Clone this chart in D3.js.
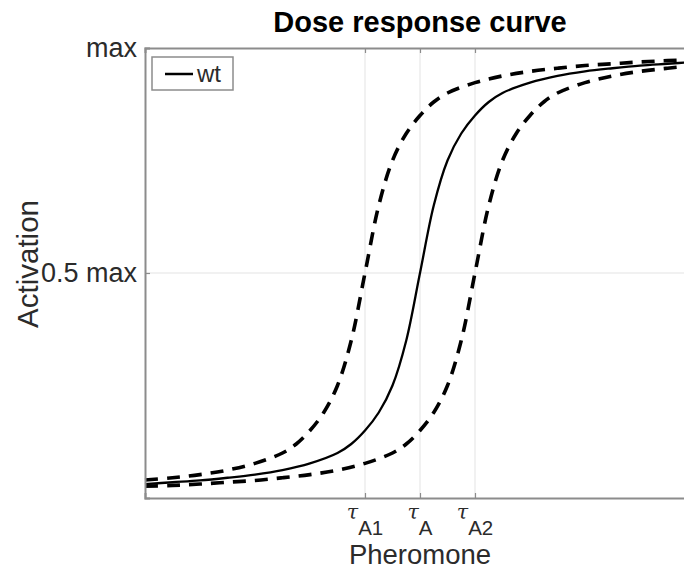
<!DOCTYPE html>
<html>
<head>
<meta charset="utf-8">
<script src="https://cdn.jsdelivr.net/npm/d3@7"></script>
<style>
  html, body { margin: 0; padding: 0; background: #fff; }
  svg { display: block; font-family: "Liberation Sans", Arial, Helvetica, sans-serif; }
</style>
</head>
<body>
<svg id="chart" width="684" height="570"></svg>
<script>
// Pheromone dose (arbitrary units) and activation (fraction of max)
const doseWt = [0, 0.5, 1, 1.5, 2, 2.5, 3, 3.5, 3.75, 4, 4.25, 4.5, 4.75, 5, 5.25, 5.5, 5.75, 6, 6.25, 6.5, 7, 7.5, 8, 8.5, 9, 9.5, 10];
const actWt  = [0.031, 0.035, 0.039, 0.045, 0.052, 0.062, 0.077, 0.10, 0.12, 0.15, 0.19, 0.25, 0.35, 0.50, 0.65, 0.75, 0.81, 0.85, 0.88, 0.90, 0.923, 0.938, 0.948, 0.955, 0.961, 0.965, 0.969];

const doseA1 = [0, 0.5, 1, 1.5, 2, 2.5, 2.75, 3, 3.25, 3.5, 3.75, 4, 4.25, 4.5, 4.75, 5, 5.25, 5.5, 6, 6.5, 7, 7.5, 8, 8.5, 9, 9.5, 10];
const actA1  = [0.040, 0.045, 0.052, 0.062, 0.077, 0.10, 0.12, 0.15, 0.19, 0.25, 0.35, 0.50, 0.65, 0.75, 0.81, 0.85, 0.88, 0.90, 0.923, 0.938, 0.948, 0.955, 0.961, 0.965, 0.969, 0.972, 0.974];

const doseA2 = [0, 0.5, 1, 1.5, 2, 2.5, 3, 3.5, 4, 4.5, 4.75, 5, 5.25, 5.5, 5.75, 6, 6.25, 6.5, 6.75, 7, 7.25, 7.5, 8, 8.5, 9, 9.5, 10];
const actA2  = [0.026, 0.028, 0.031, 0.035, 0.039, 0.045, 0.052, 0.062, 0.077, 0.10, 0.12, 0.15, 0.19, 0.25, 0.35, 0.50, 0.65, 0.75, 0.81, 0.85, 0.88, 0.90, 0.923, 0.938, 0.948, 0.955, 0.961];

// Threshold doses and their tick labels
const xTickValues = [4, 5, 6];
const xTickSubs   = ["A1", "A", "A2"];
const yTickValues = [0.5, 1];
const yTickLabels = ["0.5 max", "max"];

const svg = d3.select("#chart");
const plotLeft = 145, plotRight = 695, plotTop = 48, plotBottom = 498;

const x = d3.scaleLinear().domain([0, 10]).range([plotLeft, plotRight]);
const y = d3.scaleLinear().domain([0, 1]).range([plotBottom, plotTop]);

const gridColor = "#e3e3e3";
const axisColor = "#8c8c8c";
const textColor = "#2b2b2b";

// grid lines
svg.append("g").selectAll("line").data(xTickValues).join("line")
  .attr("x1", d => x(d)).attr("x2", d => x(d))
  .attr("y1", plotTop).attr("y2", plotBottom)
  .attr("stroke", gridColor).attr("stroke-width", 1);
svg.append("g").selectAll("line").data([0.5]).join("line")
  .attr("x1", plotLeft).attr("x2", plotRight)
  .attr("y1", d => y(d)).attr("y2", d => y(d))
  .attr("stroke", gridColor).attr("stroke-width", 1);

// curves
const line = d3.line().x(d => x(d[0])).y(d => y(d[1])).curve(d3.curveCatmullRom.alpha(0.5));
const zip = (a, b) => a.map((v, i) => [v, b[i]]);

const plot = svg.append("g");
plot.append("path").datum(zip(doseA1, actA1)).attr("d", line)
  .attr("fill", "none").attr("stroke", "#000").attr("stroke-width", 3.6)
  .attr("stroke-dasharray", "13,9");
plot.append("path").datum(zip(doseA2, actA2)).attr("d", line)
  .attr("fill", "none").attr("stroke", "#000").attr("stroke-width", 3.6)
  .attr("stroke-dasharray", "13,9");
plot.append("path").datum(zip(doseWt, actWt)).attr("d", line)
  .attr("fill", "none").attr("stroke", "#000").attr("stroke-width", 2.3);

// axes box
const xAxisB = d3.axisBottom(x).tickValues(xTickValues).tickSize(-5).tickFormat("");
const xAxisT = d3.axisTop(x).tickValues(xTickValues).tickSize(-5).tickFormat("");
const yAxisL = d3.axisLeft(y).tickValues(yTickValues).tickSize(-5).tickFormat("");

function styleAxis(g) {
  g.select(".domain").attr("stroke", axisColor).attr("stroke-width", 2);
  g.selectAll(".tick line").attr("stroke", axisColor).attr("stroke-width", 1.2);
}
svg.append("g").attr("transform", `translate(0,${plotBottom})`).call(xAxisB).call(styleAxis);
svg.append("g").attr("transform", `translate(0,${plotTop})`).call(xAxisT).call(styleAxis);
svg.append("g").attr("transform", `translate(${plotLeft},0)`).call(yAxisL).call(styleAxis);

// y tick labels
svg.append("g").selectAll("text").data(yTickValues).join("text")
  .attr("x", plotLeft - 8).attr("y", d => y(d)).attr("dy", "0.35em")
  .attr("text-anchor", "end").attr("font-size", 27).attr("fill", textColor)
  .text((d, i) => yTickLabels[i]);

// x tick labels: tau with subscript
const xt = svg.append("g").selectAll("text").data(xTickValues).join("text")
  .attr("x", d => x(d)).attr("y", 519)
  .attr("text-anchor", "middle").attr("font-size", 20.5).attr("fill", textColor);
xt.append("tspan").attr("font-family", "'DejaVu Serif', serif").attr("font-style", "italic").text("τ");
xt.append("tspan").attr("dy", 16).text((d, i) => xTickSubs[i]);

// axis labels
svg.append("text").attr("x", (plotLeft + plotRight) / 2).attr("y", 564)
  .attr("text-anchor", "middle").attr("font-size", 27.5).attr("fill", textColor)
  .text("Pheromone");
svg.append("text").attr("transform", `translate(38,${(plotTop + plotBottom) / 2 - 9}) rotate(-90)`)
  .attr("text-anchor", "middle").attr("font-size", 29.5).attr("fill", textColor)
  .text("Activation");

// title
svg.append("text").attr("x", (plotLeft + plotRight) / 2).attr("y", 32)
  .attr("text-anchor", "middle").attr("font-size", 29).attr("font-weight", "bold")
  .attr("fill", "#000").text("Dose response curve");

// legend
const lg = svg.append("g");
lg.append("rect").attr("x", 152).attr("y", 57).attr("width", 81).attr("height", 33)
  .attr("fill", "#fff").attr("stroke", "#8c8c8c").attr("stroke-width", 1.5);
lg.append("line").attr("x1", 165).attr("x2", 193).attr("y1", 74).attr("y2", 74)
  .attr("stroke", "#000").attr("stroke-width", 2.5);
lg.append("text").attr("x", 197).attr("y", 74).attr("dy", "0.35em")
  .attr("font-size", 24).attr("fill", textColor).text("wt");
</script>
</body>
</html>
